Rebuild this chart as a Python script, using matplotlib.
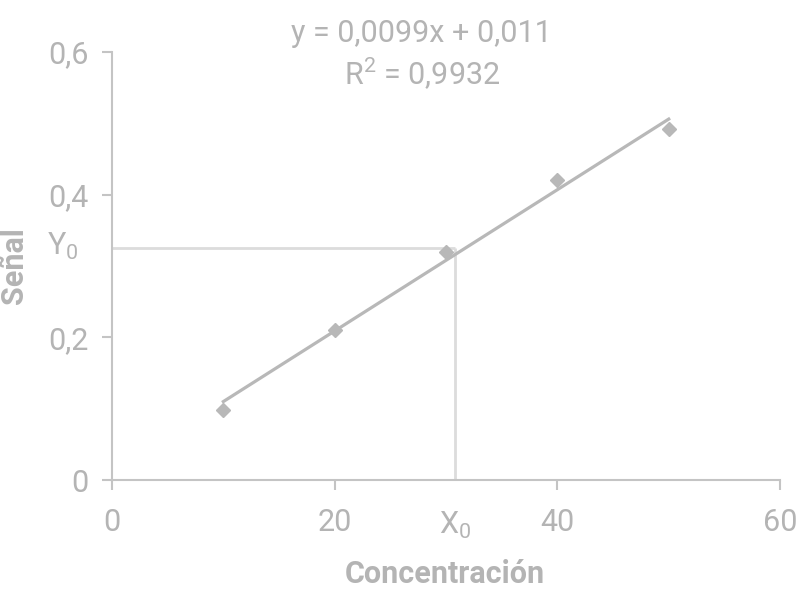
import matplotlib
matplotlib.use("Agg")
import matplotlib.pyplot as plt
import numpy as np

# ---- data ----
conc = [10, 20, 30, 40, 50]
signal = [0.098, 0.21, 0.319, 0.42, 0.492]
slope = 0.0099
intercept = 0.011
r2 = 0.9932
x0 = 30.8
y0 = 0.325
xticks = [0, 20, 40, 60]
yticks = [0, 0.2, 0.4, 0.6]
xtick_labels = ["0", "20", "40", "60"]
ytick_labels = ["0", "0,2", "0,4", "0,6"]

fam = "Roboto"
plt.rcParams['font.family'] = [fam, 'DejaVu Sans']
plt.rcParams['mathtext.fontset'] = 'custom'
plt.rcParams['mathtext.rm'] = fam

txt = '#b4b4b4'
axc = '#c4c4c4'
mk = '#b8b8b8'
guide = '#dcdcdc'

fig = plt.figure(figsize=(7.96, 5.89), dpi=100)
ax = fig.add_axes([0.1407, 0.185, 0.98 - 0.1407, 0.9117 - 0.185])
ax.set_xlim(0, 60)
ax.set_ylim(0, 0.6)

# guide lines
ax.plot([0, x0], [y0, y0], color=guide, lw=2, zorder=1, solid_capstyle='butt')
ax.plot([x0, x0], [0, y0], color=guide, lw=2, zorder=1, solid_capstyle='butt')

# trend line
xt = np.array([conc[0], conc[-1]])
ax.plot(xt, slope * xt + intercept, color=mk, lw=2.3, zorder=2)
ax.plot(conc, signal, linestyle='none', marker='D', markersize=7.5, color=mk, zorder=3)

for s in ['top', 'right']:
    ax.spines[s].set_visible(False)
for s in ['left', 'bottom']:
    ax.spines[s].set_color(axc)
    ax.spines[s].set_linewidth(1.5)

fs = 22
ax.set_xticks(xticks)
ax.set_xticklabels(xtick_labels)
ax.set_yticks(yticks)
ax.set_yticklabels(ytick_labels)
ax.tick_params(axis='both', direction='out', length=7, width=1.5, color=axc,
               labelcolor=txt, labelsize=fs)
ax.tick_params(axis='x', pad=13)
ax.tick_params(axis='y', pad=10)

ax.text(x0, -0.064, r'X$_{0}$', color=txt, fontsize=fs, ha='center', va='center')
ax.text(-4.4, y0 + 0.003, r'Y$_{0}$', color=txt, fontsize=fs, ha='center', va='center')

fig.text(421 / 796, 1 - 42 / 589, 'y = 0,0099x + 0,011', color=txt, fontsize=fs,
         ha='center', va='baseline')
fig.text(422 / 796, 1 - 85 / 589, 'R$^{2}$ = 0,9932', color=txt, fontsize=fs,
         ha='center', va='baseline')

fig.text(445 / 796, 1 - 574 / 589, 'Concentración', color=txt, fontsize=22,
         fontweight='bold', ha='center', va='center')
fig.text(14 / 796, 1 - 266 / 589, 'Señal', color=txt, fontsize=22,
         fontweight='bold', ha='center', va='center', rotation=90)

fig.savefig('out.png', dpi=100)
